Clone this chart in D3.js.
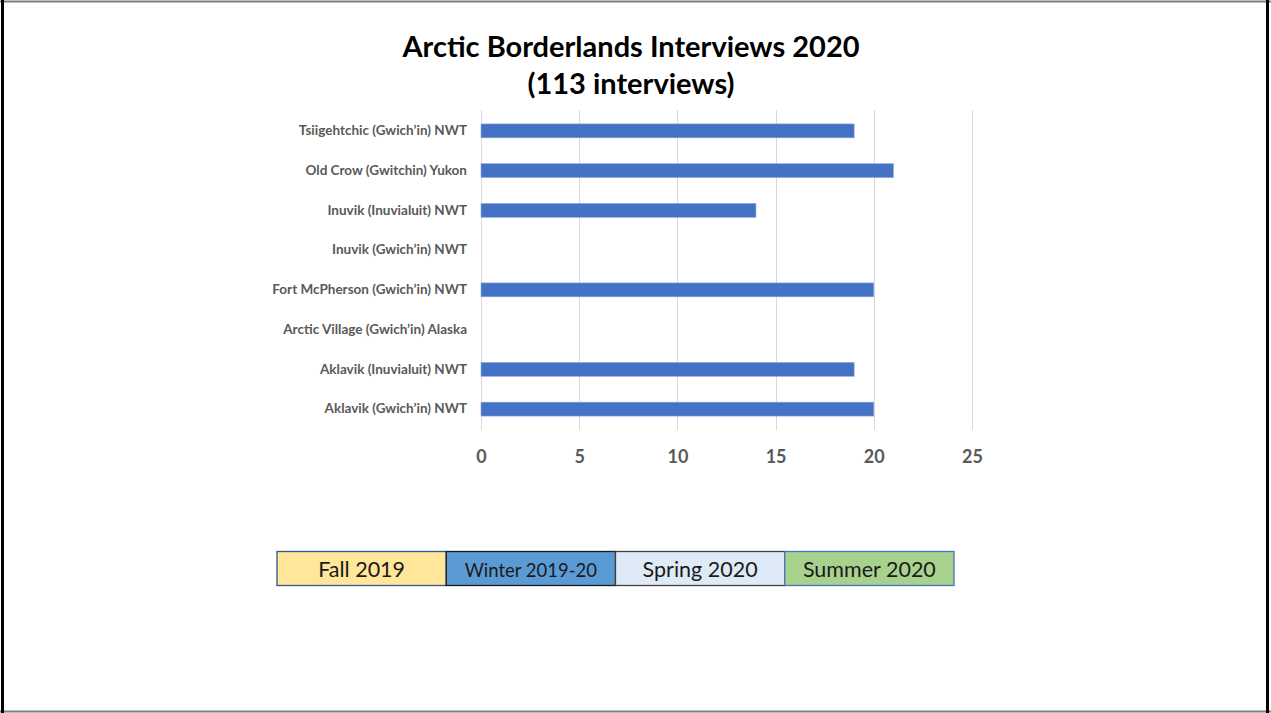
<!DOCTYPE html>
<html>
<head>
<meta charset="utf-8">
<script src="https://cdn.jsdelivr.net/npm/d3@7/dist/d3.min.js"></script>
<style>
  html, body { margin: 0; padding: 0; background: #fff; }
  svg { display: block; }
</style>
</head>
<body>
<svg id="chart" width="1271" height="713"></svg>
<script>
// Interview counts per community (top to bottom)
const communities = [
  "Tsiigehtchic (Gwich\u2019in) NWT",
  "Old Crow (Gwitchin) Yukon",
  "Inuvik (Inuvialuit) NWT",
  "Inuvik (Gwich\u2019in) NWT",
  "Fort McPherson (Gwich\u2019in) NWT",
  "Arctic Village (Gwich\u2019in) Alaska",
  "Aklavik (Inuvialuit) NWT",
  "Aklavik (Gwich\u2019in) NWT"
];
const interviews = [19, 21, 14, 0, 20, 0, 19, 20];
const xTicks = [0, 5, 10, 15, 20, 25];

// Season key shown under the chart
const seasons = ["Fall 2019", "Winter 2019-20", "Spring 2020", "Summer 2020"];
const seasonFills = ["#FFE699", "#5B9BD5", "#DEEBF7", "#A9D18E"];
const seasonStrokes = ["#2F5597", "#1a1a1a", "#404040", "#4472C4"];

const font = "Lato, 'Open Sans', 'Liberation Sans', sans-serif";
const svg = d3.select("#chart");

// Slide frame
svg.append("rect").attr("x", 0).attr("y", 0).attr("width", 1271).attr("height", 713).attr("fill", "#fff");
svg.append("line").attr("x1", 0).attr("x2", 1271).attr("y1", 1.5).attr("y2", 1.5).attr("stroke", "#7f7f7f").attr("stroke-width", 2);
svg.append("line").attr("x1", 0).attr("x2", 1271).attr("y1", 711.5).attr("y2", 711.5).attr("stroke", "#7f7f7f").attr("stroke-width", 2);
svg.append("line").attr("x1", 2.5).attr("x2", 2.5).attr("y1", 0).attr("y2", 713).attr("stroke", "#000").attr("stroke-width", 3);
svg.append("line").attr("x1", 1267.5).attr("x2", 1267.5).attr("y1", 0).attr("y2", 713).attr("stroke", "#000").attr("stroke-width", 3);

// Title
const title = svg.append("text").attr("text-anchor", "middle").attr("font-family", font)
  .attr("font-weight", "bold").attr("font-size", 29).attr("fill", "#000");
title.append("tspan").attr("x", 631).attr("y", 57).text("Arctic Borderlands Interviews 2020");
title.append("tspan").attr("x", 631).attr("y", 94).text("(113 interviews)");

// Scales
const x = d3.scaleLinear().domain([0, 25]).range([481, 972]);
const y = d3.scaleBand().domain(communities).range([111, 429]).paddingInner(0.65).paddingOuter(0.325);

// Vertical gridlines
svg.append("g").selectAll("line").data(xTicks).join("line")
  .attr("x1", d => Math.round(x(d)) + 0.5).attr("x2", d => Math.round(x(d)) + 0.5)
  .attr("y1", 110).attr("y2", 430)
  .attr("stroke", "#d9d9d9").attr("stroke-width", 1);

// Bars
svg.append("g").selectAll("rect").data(communities.map((c, i) => ({ c, v: interviews[i] })).filter(d => d.v > 0))
  .join("rect")
  .attr("x", x(0)).attr("y", d => y(d.c))
  .attr("width", d => x(d.v) - x(0)).attr("height", y.bandwidth())
  .attr("fill", "#4472C4").attr("stroke", "#8faadc").attr("stroke-width", 0.6);

// X axis labels
const xAxis = svg.append("g").attr("transform", "translate(0,430)")
  .call(d3.axisBottom(x).tickValues(xTicks).tickSize(0).tickPadding(20));
xAxis.select(".domain").remove();
xAxis.selectAll("text").attr("font-family", font).attr("font-weight", "bold")
  .attr("font-size", 18).attr("fill", "#595959");

// Category labels
const yAxis = svg.append("g").attr("transform", "translate(481,0)")
  .call(d3.axisLeft(y).tickSize(0).tickPadding(14));
yAxis.select(".domain").remove();
yAxis.selectAll("text").attr("font-family", font).attr("font-weight", "bold")
  .attr("font-size", 13.5).attr("fill", "#595959");

// Season key
const keyX = d3.scaleBand().domain(seasons).range([277, 954]);
const key = svg.append("g").selectAll("g").data(seasons).join("g");
key.append("rect")
  .attr("x", d => keyX(d)).attr("y", 551.5)
  .attr("width", keyX.bandwidth()).attr("height", 34)
  .attr("fill", (d, i) => seasonFills[i]).attr("stroke", (d, i) => seasonStrokes[i]).attr("stroke-width", 1.3);
key.append("text")
  .attr("x", d => keyX(d) + keyX.bandwidth() / 2).attr("y", 577)
  .attr("text-anchor", "middle").attr("font-family", font)
  .attr("font-size", (d, i) => i === 1 ? 18.5 : 21.5).attr("fill", "#1a1a1a")
  .text(d => d);
</script>
</body>
</html>
